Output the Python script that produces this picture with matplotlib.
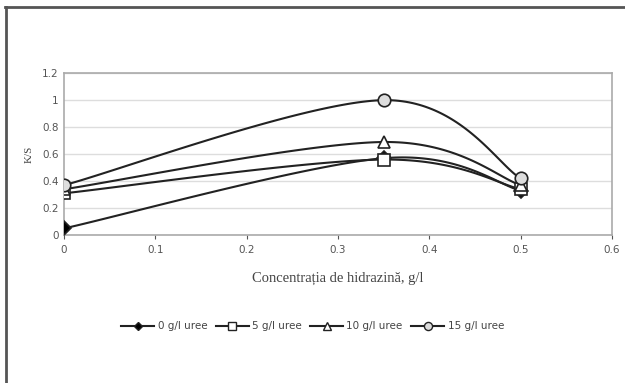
import numpy as np
import matplotlib
matplotlib.use("Agg")
import matplotlib.pyplot as plt
from matplotlib.lines import Line2D

# Hydrazine concentration (g/l) and K/S values for each urea level
x_vals = [0.0, 0.35, 0.5]
ks_0 = [0.05, 0.57, 0.33]
ks_5 = [0.31, 0.56, 0.34]
ks_10 = [0.34, 0.69, 0.37]
ks_15 = [0.37, 1.00, 0.42]
series_labels = ["0 g/l uree", "5 g/l uree", "10 g/l uree", "15 g/l uree"]
x_ticks = [0, 0.1, 0.2, 0.3, 0.4, 0.5, 0.6]
y_ticks = [0, 0.2, 0.4, 0.6, 0.8, 1.0, 1.2]
y_tick_labels = ["0", "0.2", "0.4", "0.6", "0.8", "1", "1.2"]


def smooth(xs, ys, n=60):
    """Cubic Bezier smoothing through the points (Catmull-Rom tangents)."""
    p = np.column_stack([xs, ys]).astype(float)
    ext = np.vstack([p[0], p, p[-1]])
    out = []
    t = np.linspace(0, 1, n)[:, None]
    for i in range(len(p) - 1):
        p0, p1, p2, p3 = ext[i], ext[i + 1], ext[i + 2], ext[i + 3]
        c1 = p1 + (p2 - p0) / 6.0
        c2 = p2 - (p3 - p1) / 6.0
        seg = ((1 - t) ** 3) * p1 + 3 * ((1 - t) ** 2) * t * c1 \
            + 3 * (1 - t) * t ** 2 * c2 + t ** 3 * p2
        out.append(seg if i == 0 else seg[1:])
    c = np.vstack(out)
    return c[:, 0], c[:, 1]


fig = plt.figure(figsize=(6.25, 3.83), dpi=100)
fig.patch.set_facecolor("white")

# outer frame (left and top edges)
fig.add_artist(Line2D([0.009, 0.009], [0.0, 0.982], transform=fig.transFigure,
                      color="#555555", lw=2))
fig.add_artist(Line2D([0.008, 1.0], [0.982, 0.982], transform=fig.transFigure,
                      color="#555555", lw=2))

ax = fig.add_axes([0.1024, 0.386, 0.877, 0.423])
ax.set_xlim(0, 0.6)
ax.set_ylim(0, 1.2)
ax.set_xticks(x_ticks)
ax.set_xticklabels([f"{v:g}" for v in x_ticks])
ax.set_yticks(y_ticks)
ax.set_yticklabels(y_tick_labels)
ax.tick_params(axis="both", labelsize=7.5, colors="#555555", length=3,
               width=0.8, pad=4)
ax.tick_params(axis="y", length=0)
for s in ax.spines.values():
    s.set_color("#aaaaaa")
    s.set_linewidth(1.2)
ax.grid(axis="y", color="#dddddd", lw=1)
ax.set_axisbelow(True)

styles = [
    dict(marker="D", mfc="black", ms=7),
    dict(marker="s", mfc="white", ms=8),
    dict(marker="^", mfc="white", ms=8),
    dict(marker="o", mfc="#dddddd", ms=9),
]
all_series = [ks_0, ks_5, ks_10, ks_15]
handles = []
for ys, st, lab in zip(all_series, styles, series_labels):
    sx, sy = smooth(x_vals, ys)
    ax.plot(sx, sy, color="#222222", lw=1.5, zorder=3)
    ax.plot(x_vals, ys, linestyle="none", marker=st["marker"],
            mfc=st["mfc"], mec="#222222", mew=1.2, ms=st["ms"], zorder=4)
    handles.append(Line2D([], [], color="#222222", lw=1.5,
                          marker=st["marker"], mfc=st["mfc"], mec="#222222",
                          mew=1.0, ms=st["ms"] * 0.65, label=lab))

ax.set_ylabel("K/S", fontsize=8, color="#444444", labelpad=6,
              family="Liberation Serif")
ax.set_xlabel("Concentrația de hidrazină, g/l", fontsize=10.5, color="#444444",
              family="Liberation Serif", labelpad=12)

fig.legend(handles=handles, loc="center", bbox_to_anchor=(0.5, 0.148),
           ncol=4, frameon=False, fontsize=7.5, handlelength=3.2,
           handletextpad=0.3, columnspacing=0.8, labelcolor="#444444")

fig.savefig("out.png", dpi=100, facecolor="white")
